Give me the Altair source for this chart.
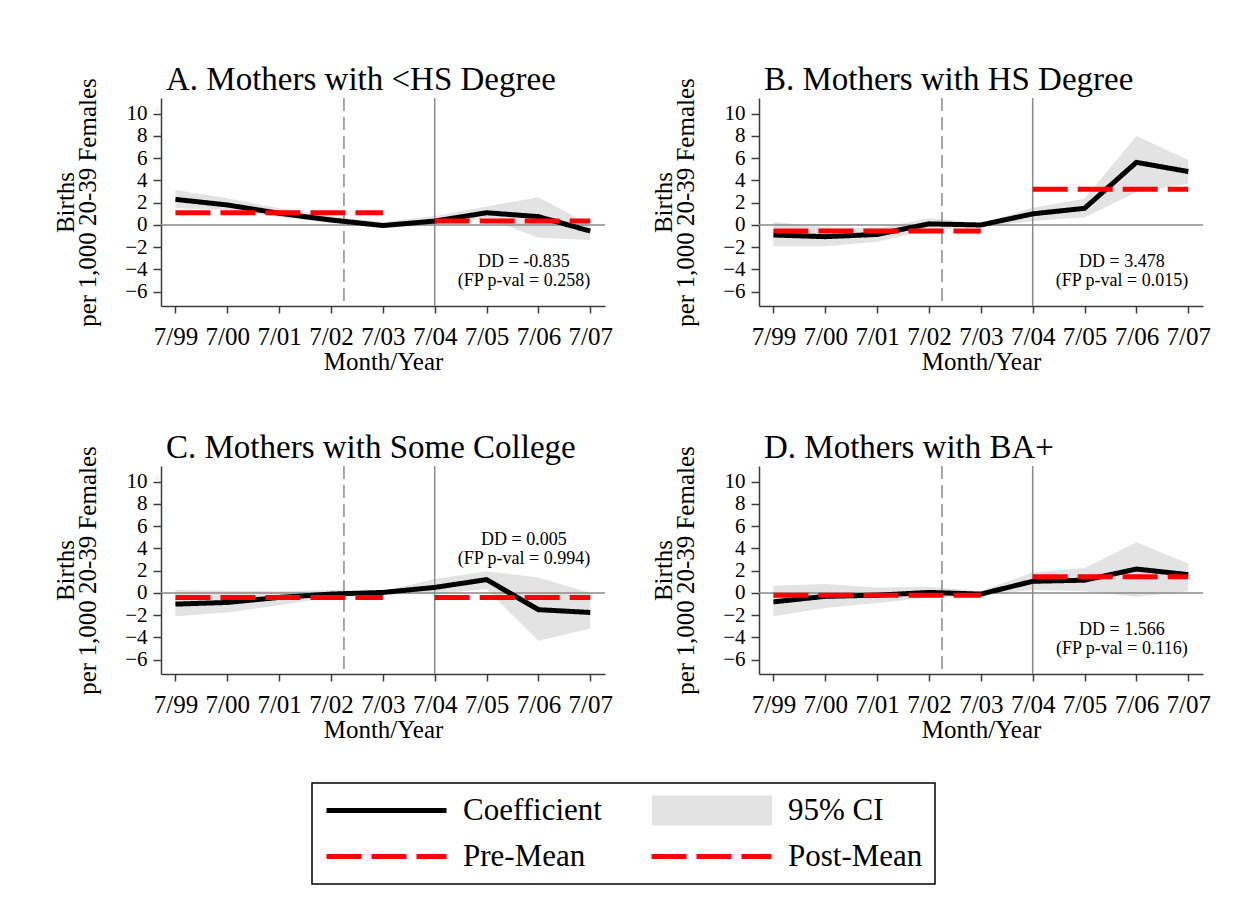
import json
import altair as alt
import pandas as pd

# ---------------- data ----------------
tick_labels = ["7/99", "7/00", "7/01", "7/02", "7/03", "7/04", "7/05", "7/06", "7/07"]
x_index = list(range(len(tick_labels)))

panel_titles = [
    "A. Mothers with <HS Degree",
    "B. Mothers with HS Degree",
    "C. Mothers with Some College",
    "D. Mothers with BA+",
]

coef_A = [2.3, 1.8, 1.05, 0.45, -0.05, 0.35, 1.1, 0.75, -0.55]
lo_A = [1.5, 1.35, 0.75, 0.15, -0.3, 0.0, 0.6, -1.15, -1.35]
hi_A = [3.15, 2.4, 1.5, 0.8, 0.25, 0.8, 1.65, 2.5, 0.0]

coef_B = [-0.9, -1.05, -0.85, 0.1, 0.0, 1.0, 1.5, 5.63, 4.8]
lo_B = [-1.9, -1.9, -1.5, -0.45, -0.2, 0.35, 0.7, 2.95, 3.7]
hi_B = [0.3, -0.2, -0.3, 0.6, 0.15, 1.55, 2.35, 8.0, 5.85]

coef_C = [-1.0, -0.85, -0.4, -0.1, 0.05, 0.5, 1.2, -1.5, -1.75]
lo_C = [-2.1, -1.75, -1.1, -0.4, -0.15, -0.1, 0.35, -4.3, -3.2]
hi_C = [0.27, 0.2, 0.15, 0.27, 0.15, 1.25, 1.95, 1.4, 0.0]

coef_D = [-0.8, -0.3, -0.2, 0.05, -0.1, 1.05, 1.15, 2.15, 1.65]
lo_D = [-2.1, -1.35, -0.9, -0.4, -0.25, 0.27, 0.15, -0.33, 0.15]
hi_D = [0.65, 0.8, 0.5, 0.55, 0.15, 1.85, 2.25, 4.55, 2.65]

pre_mean = [1.1, -0.55, -0.4, -0.2]
post_mean = [0.35, 3.2, -0.4, 1.45]

dd_values = ["-0.835", "3.478", "0.005", "1.566"]
fp_pvals = ["0.258", "0.015", "0.994", "0.116"]

pre_idx = [0, 1, 2, 3, 4]       # 7/99 .. 7/03
post_idx = [5, 6, 7, 8]         # 7/04 .. 7/07
announce_x = 3.25               # dashed vertical line (10/02)
policy_x = 5.0                  # solid vertical line (7/04)

coefs = [coef_A, coef_B, coef_C, coef_D]
los = [lo_A, lo_B, lo_C, lo_D]
his = [hi_A, hi_B, hi_C, hi_D]

# annotation placement (data units, first text line)
dd_x = 6.72
dd_y = [-3.3, -3.3, 4.75, -3.3]

series_domain = ["Coefficient", "95% CI", "Pre-Mean", "Post-Mean"]
band_domain = ["95% CI"]

# ---------------- styling ----------------
FONT = "Liberation Serif"
RED = "#ff0000"
CI_GRAY = "#e3e3e3"
RULE_GRAY = "#8a8a8a"
AXIS_GRAY = "#3c3c3c"
PLOT_W, PLOT_H = 444, 208

x_scale = alt.Scale(domain=[-0.278, 8.284], nice=False, zero=False)
y_scale = alt.Scale(domain=[-7.28, 11.41], nice=False, zero=False)

label_expr = json.dumps(tick_labels) + "[round(datum.value)]"

x_axis = alt.Axis(
    values=x_index, labelExpr=label_expr, title="Month/Year", grid=False,
    tickSize=7, labelPadding=11, titlePadding=0, labelFontSize=25,
    titleFontSize=25, labelFlush=False, labelOverlap=False,
)
y_axis = alt.Axis(
    values=[-6, -4, -2, 0, 2, 4, 6, 8, 10], title=["Births", "per 1,000 20-39 Females"],
    grid=False, tickSize=8, labelPadding=6, titlePadding=24, labelFontSize=21,
    titleFontSize=25, titleLineHeight=22, labelFlush=False, labelOverlap=False,
)

# main legend (lines): 2 columns, boxed
line_legend = alt.Legend(
    title=None, orient="none", legendX=151, legendY=685, columns=2,
    direction="horizontal", columnPadding=47, rowPadding=14, clipHeight=31,
    symbolSize=14400, symbolType="stroke", symbolStrokeWidth=5, labelFont=FONT,
    labelFontSize=31, labelColor="black", labelOffset=14, labelLimit=400,
    padding=12, strokeColor="black", cornerRadius=0,
)
# CI swatch, placed over the "95% CI" cell of the main legend
band_legend = alt.Legend(
    title=None, orient="none", legendX=491, legendY=697, clipHeight=31,
    symbolSize=14400, symbolType="M-1,-0.25H1V0.25H-1Z", symbolStrokeWidth=0,
    labelExpr="''", padding=0, labelOffset=0,
)

color_enc = alt.Color(
    "series:N",
    scale=alt.Scale(domain=series_domain, range=["#000000", "transparent", RED, RED]),
    legend=line_legend,
)
dash_enc = alt.StrokeDash(
    "series:N",
    scale=alt.Scale(domain=series_domain, range=[[1, 0], [1, 0], [35, 10], [35, 10]]),
    legend=line_legend,
)
fill_enc = alt.Fill(
    "band:N", scale=alt.Scale(domain=band_domain, range=[CI_GRAY]), legend=band_legend
)


def make_panel(k):
    X = alt.X("x:Q", scale=x_scale, axis=x_axis)
    coef_df = pd.DataFrame({"x": x_index, "v": coefs[k], "series": "Coefficient"})
    ci_df = pd.DataFrame({"x": x_index, "lo": los[k], "hi": his[k], "band": "95% CI"})
    mean_df = pd.concat([
        pd.DataFrame({"x": pre_idx, "v": pre_mean[k], "series": "Pre-Mean"}),
        pd.DataFrame({"x": post_idx, "v": post_mean[k], "series": "Post-Mean"}),
    ])
    zero_df = pd.DataFrame({"v": [0.0]})
    ann_df = pd.DataFrame({"x": [announce_x]})
    pol_df = pd.DataFrame({"x": [policy_x]})
    txt_df = pd.DataFrame({
        "x": [dd_x], "v": [dd_y[k]],
        "t": [f"DD = {dd_values[k]}\n(FP p-val = {fp_pvals[k]})"],
    })

    area = alt.Chart(ci_df).mark_area(opacity=1).encode(
        x=X, y=alt.Y("lo:Q", scale=y_scale, axis=y_axis), y2="hi:Q", fill=fill_enc
    )
    zero = alt.Chart(zero_df).mark_rule(color=RULE_GRAY, strokeWidth=1.5).encode(
        y=alt.Y("v:Q", scale=y_scale, axis=y_axis)
    )
    vdash = alt.Chart(ann_df).mark_rule(color=RULE_GRAY, strokeWidth=1.5, strokeDash=[13, 6]).encode(x=X)
    vsolid = alt.Chart(pol_df).mark_rule(color=RULE_GRAY, strokeWidth=1.5).encode(x=X)
    line = alt.Chart(coef_df).mark_line(strokeWidth=5).encode(
        x=X, y=alt.Y("v:Q", scale=y_scale, axis=y_axis), color=color_enc, strokeDash=dash_enc
    )
    means = alt.Chart(mean_df).mark_line(strokeWidth=5).encode(
        x=X, y=alt.Y("v:Q", scale=y_scale, axis=y_axis), color=color_enc, strokeDash=dash_enc
    )
    text = alt.Chart(txt_df).mark_text(
        align="center", baseline="middle", fontSize=18, lineBreak="\n",
        lineHeight=19, font=FONT, color="black",
    ).encode(x=X, y=alt.Y("v:Q", scale=y_scale, axis=y_axis), text="t:N")

    return alt.layer(area, zero, vdash, vsolid, line, means, text).properties(
        width=PLOT_W, height=PLOT_H,
        title=alt.TitleParams(
            text=panel_titles[k], anchor="start", frame="group", fontSize=33,
            font=FONT, fontWeight="normal", color="black", offset=-45, dx=5,
            baseline="alphabetic",
        ),
    )


chart = alt.concat(
    *[make_panel(k) for k in range(4)],
    columns=2,
    spacing={"row": 160, "column": 154},
    bounds="flush",
    padding={"left": 45, "top": 55, "right": 10, "bottom": 10},
    background="white",
).configure(font=FONT).configure_axis(
    domainColor=AXIS_GRAY, domainWidth=1.5, tickColor=AXIS_GRAY, tickWidth=1.5,
    labelColor="black", titleColor="black", labelFont=FONT, titleFont=FONT,
    titleFontWeight="normal", grid=False,
).configure_legend(strokeWidth=1.5).configure_view(stroke=None)

chart.save("out.html", embed_options={"renderer": "svg", "actions": False})
